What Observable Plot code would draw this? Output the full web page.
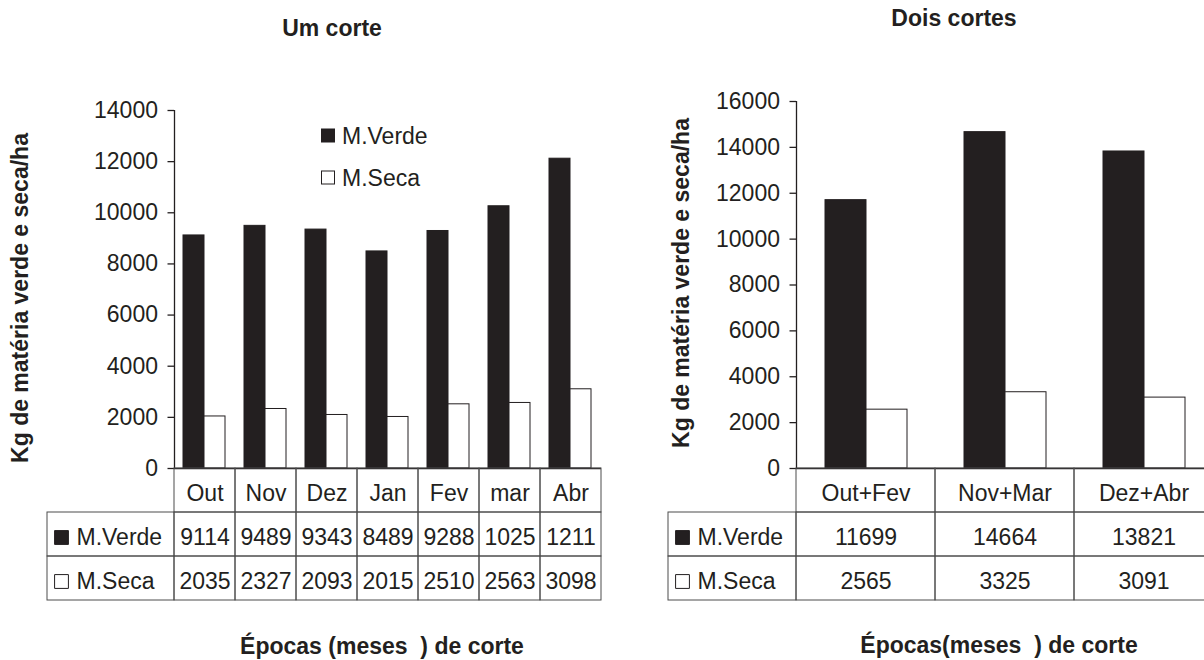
<!DOCTYPE html>
<html>
<head>
<meta charset="utf-8">
<script src="https://cdn.jsdelivr.net/npm/d3@7"></script>
<script src="https://cdn.jsdelivr.net/npm/@observablehq/plot@0.6"></script>
<style>
html, body { margin: 0; padding: 0; background: #fff; overflow: hidden; }
#root { position: relative; width: 1204px; height: 660px; overflow: hidden; }
#root svg { position: absolute; max-width: none; }
</style>
</head>
<body>
<div id="root"></div>
<script>
// ---------- data ----------
const series = ["M.Verde", "M.Seca"];

const cats1 = ["Out", "Nov", "Dez", "Jan", "Fev", "mar", "Abr"];
const verde1 = [9114, 9489, 9343, 8489, 9288, 10255, 12115];
const seca1 = [2035, 2327, 2093, 2015, 2510, 2563, 3098];
const verde1Labels = ["9114", "9489", "9343", "8489", "9288", "1025", "1211"];
const seca1Labels = ["2035", "2327", "2093", "2015", "2510", "2563", "3098"];
const yTicks1 = [0, 2000, 4000, 6000, 8000, 10000, 12000, 14000];

const cats2 = ["Out+Fev", "Nov+Mar", "Dez+Abr"];
const verde2 = [11699, 14664, 13821];
const seca2 = [2565, 3325, 3091];
const verde2Labels = ["11699", "14664", "13821"];
const seca2Labels = ["2565", "3325", "3091"];
const yTicks2 = [0, 2000, 4000, 6000, 8000, 10000, 12000, 14000, 16000];

const title1 = "Um corte";
const title2 = "Dois cortes";
const yTitle = "Kg de matéria verde e seca/ha";
const xTitle1 = "Épocas (meses  ) de corte";
const xTitle2 = "Épocas(meses  ) de corte";

// ---------- style ----------
const INK = "#231f20";
const GRID = "#4d4d4d";
const FONT = "'Liberation Sans', Arial, Helvetica, sans-serif";
const root = document.getElementById("root");

function place(el, left, top) {
  el.style.left = left + "px";
  el.style.top = top + "px";
  root.appendChild(el);
}

const baseStyle = {fontFamily: FONT, fontSize: "23px", color: INK, background: "transparent", overflow: "visible"};

function makePanel(p) {
  const rows = p.cats.flatMap((c, i) => [
    {cat: c, series: series[0], value: p.verde[i]},
    {cat: c, series: series[1], value: p.seca[i]}
  ]);
  const marginLeft = p.axisX - p.left;
  const marginRight = p.left + p.width - p.frameRight;
  const yDomain = [0, p.yTicks[p.yTicks.length - 1]];

  // bars, grouped per category with fx facets
  const bars = Plot.plot({
    width: p.width, height: 470,
    marginTop: p.yTop, marginBottom: 2, marginLeft, marginRight,
    style: baseStyle,
    fx: {domain: p.cats, padding: 0, axis: null, label: null},
    x: {domain: series, paddingInner: 0, paddingOuter: p.po, align: p.align, axis: null},
    y: {domain: yDomain, axis: null},
    color: {domain: series, range: [INK, "#ffffff"]},
    marks: [
      Plot.barY(rows, {fx: "cat", x: "series", y: "value", fill: "series", stroke: INK, strokeWidth: 1}),
      Plot.ruleY([0], {stroke: INK, strokeWidth: 1.3})
    ]
  });
  place(bars, p.left, 0);

  // y axis with its line (same vertical scale as the bars)
  const axis = Plot.plot({
    width: marginLeft + 2, height: 470,
    marginTop: p.yTop, marginBottom: 2, marginLeft, marginRight: 1,
    style: baseStyle,
    x: {domain: [0, 1], axis: null},
    y: {domain: yDomain},
    marks: [
      Plot.ruleX([0], {stroke: INK, strokeWidth: 1.3}),
      Plot.axisY({ticks: p.yTicks, tickFormat: d => String(d), tickSize: 6.5, tickPadding: 10,
                  fontSize: 23, label: null, color: INK, strokeWidth: 1.3})
    ]
  });
  place(axis, p.left, 0);

  // data table (cells)
  const cells = [];
  p.cats.forEach((c, i) => {
    cells.push({cat: c, row: "h", label: c});
    cells.push({cat: c, row: series[0], label: p.verdeLabels[i]});
    cells.push({cat: c, row: series[1], label: p.secaLabels[i]});
  });
  const rowDomain = ["h", ...series];
  const table = Plot.plot({
    width: p.width, height: 150, marginTop: 8, marginBottom: 10, marginLeft, marginRight,
    style: baseStyle,
    x: {domain: p.cats, padding: 0, axis: null},
    y: {domain: rowDomain, padding: 0, axis: null},
    marks: [
      Plot.cell(cells, {x: "cat", y: "row", fill: "none", stroke: GRID, strokeWidth: 1}),
      Plot.text(cells, {x: "cat", y: "row", text: "label", fontSize: 23, fill: INK, dy: 3})
    ]
  });
  place(table, p.left, 460);

  // row label column
  const lab = Plot.plot({
    width: marginLeft + 1, height: 150, marginTop: 8, marginBottom: 10,
    marginLeft: p.labelLeft - p.left, marginRight: 1,
    style: baseStyle,
    x: {domain: ["k"], padding: 0, axis: null},
    y: {domain: rowDomain, padding: 0, axis: null},
    marks: [
      Plot.cell(series, {x: () => "k", y: d => d, fill: "none", stroke: GRID, strokeWidth: 1}),
      Plot.dot(series, {y: d => d, frameAnchor: "left", dx: 14, dy: 3, symbol: "square", r: 7.8,
                        fill: d => d === series[0] ? INK : "#ffffff", stroke: INK, strokeWidth: 1}),
      Plot.text(series, {y: d => d, text: d => d, frameAnchor: "left", textAnchor: "start",
                         dx: 29, dy: 3, fontSize: 23, fill: INK})
    ]
  });
  place(lab, p.left, 460);
}

makePanel({cats: cats1, verde: verde1, seca: seca1, verdeLabels: verde1Labels, secaLabels: seca1Labels,
           yTicks: yTicks1, left: 0, width: 620, axisX: 174, frameRight: 601, yTop: 110,
           po: 0.42, align: 0.45, labelLeft: 47});
makePanel({cats: cats2, verde: verde2, seca: seca2, verdeLabels: verde2Labels, secaLabels: seca2Labels,
           yTicks: yTicks2, left: 620, width: 603, axisX: 796, frameRight: 1213, yTop: 101,
           po: 0.675, align: 0.5, labelLeft: 668});

// ---------- titles and legend ----------
const ov = d3.create("svg").attr("width", 1204).attr("height", 660)
  .style("left", "0px").style("top", "0px")
  .attr("font-family", FONT).attr("fill", INK);
ov.style("pointer-events", "none");

function txt(x, y, s, opts = {}) {
  const t = ov.append("text").attr("x", x).attr("y", y).text(s)
    .attr("font-size", opts.size || 23)
    .attr("font-weight", opts.bold ? "bold" : null)
    .attr("text-anchor", opts.anchor || "middle")
    .style("white-space", "pre");
  if (opts.rotate) t.attr("transform", `rotate(${opts.rotate},${x},${y})`);
  return t;
}
txt(332, 36, title1, {bold: true});
txt(954, 26, title2, {bold: true});
txt(28, 298, yTitle, {bold: true, rotate: -90});
txt(689, 283, yTitle, {bold: true, rotate: -90});
txt(382, 654, xTitle1, {bold: true});
txt(999, 653, xTitle2, {bold: true});

// legend (left panel)
const legendFill = [INK, "#ffffff"];
series.forEach((s, i) => {
  const cy = 136 + i * 42;
  ov.append("rect").attr("x", 321.5).attr("y", cy - 7).attr("width", 13).attr("height", 13)
    .attr("fill", legendFill[i]).attr("stroke", INK).attr("stroke-width", 1);
  txt(342, cy + 8, s, {anchor: "start"});
});
root.appendChild(ov.node());
</script>
</body>
</html>
